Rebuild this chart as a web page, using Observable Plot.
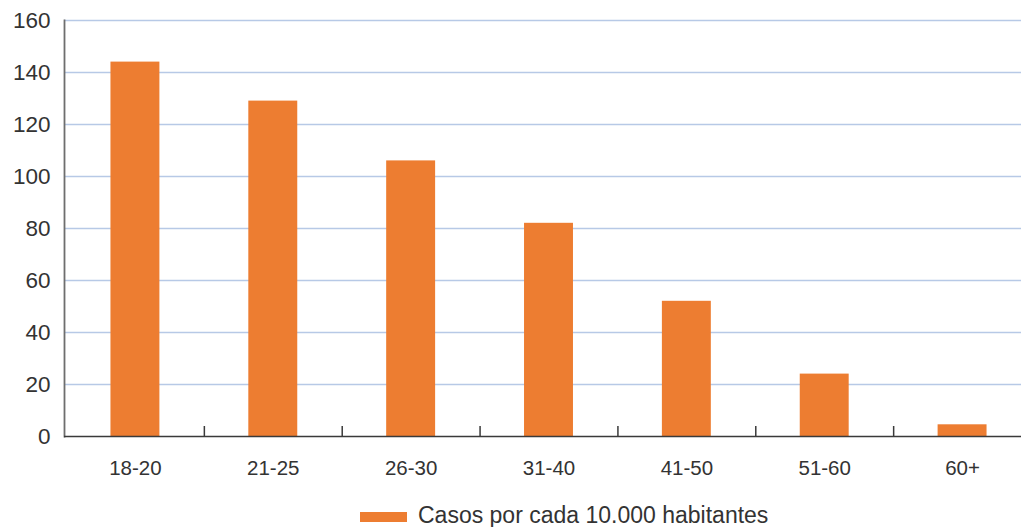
<!DOCTYPE html>
<html>
<head>
<meta charset="utf-8">
<script src="https://cdn.jsdelivr.net/npm/d3@7"></script>
<script src="https://cdn.jsdelivr.net/npm/@observablehq/plot@0.6"></script>
<style>
  body { margin: 0; background: #fff; font-family: "Liberation Sans", Arial, sans-serif; }
  #wrap { position: relative; width: 1021px; height: 527px; overflow: hidden; }
  .legend-swatch { position: absolute; left: 360px; top: 512px; width: 47px; height: 10px; background: #ED7D31; }
  .legend-text { position: absolute; left: 418px; top: 502px; font-size: 23px; line-height: 26px;
                 color: #333; white-space: nowrap; }
</style>
</head>
<body>
<div id="wrap"></div>
<script>
// Age groups and cases per 10,000 inhabitants
const ageGroups = ["18-20", "21-25", "26-30", "31-40", "41-50", "51-60", "60+"];
const casesPer10k = [144, 129, 106, 82, 52, 24, 4.5];
const yTicks = [0, 20, 40, 60, 80, 100, 120, 140, 160];
const seriesLabel = "Casos por cada 10.000 habitantes";

const barColor = "#ED7D31";
const data = ageGroups.map((g, i) => ({group: g, value: casesPer10k[i]}));

// x band scale runs slightly past the right edge, as in the source layout
const xRange = [66, 1031];
const step = (xRange[1] - xRange[0]) / ageGroups.length;
const plotHeight = 500, marginTop = 20, marginBottom = 64;
const unitsPerPx = 160 / (plotHeight - marginTop - marginBottom);

const chart = Plot.plot({
  width: 1021,
  height: plotHeight,
  marginTop,
  marginBottom,
  marginLeft: 64,
  marginRight: 0,
  style: {fontFamily: "'Liberation Sans', Arial, sans-serif", color: "#333", background: "#fff"},
  x: {domain: ageGroups, range: xRange, round: false, paddingInner: 0.645, paddingOuter: 0.3225, label: null},
  y: {domain: [0, 160], ticks: yTicks, label: null},
  marks: [
    Plot.gridY(yTicks.filter(t => t > 0), {stroke: "#b7c9e6", strokeOpacity: 1, strokeWidth: 1.5}),
    Plot.barY(data, {x: "group", y: "value", fill: barColor}),
    Plot.frame({anchor: "left", stroke: "#6e6e6e", strokeWidth: 1.8}),
    Plot.ruleY([0], {stroke: "#3a3a3a", strokeWidth: 1.5}),
    // small ticks at the boundaries between age groups
    Plot.ruleX(ageGroups.slice(0, -1), {x: d => d, dx: step / 2, y1: 0, y2: 10 * unitsPerPx, stroke: "#3a3a3a", strokeWidth: 1.5}),
    Plot.axisY(yTicks, {tickSize: 0, tickPadding: 14, fontSize: 22.5, fill: "#333"}),
    Plot.axisX({tickSize: 0, tickPadding: 24, fontSize: 20.5, fill: "#333"})
  ]
});

const wrap = document.getElementById("wrap");
wrap.appendChild(chart);
const swatch = document.createElement("div");
swatch.className = "legend-swatch";
const label = document.createElement("div");
label.className = "legend-text";
label.textContent = seriesLabel;
wrap.append(swatch, label);
</script>
</body>
</html>
